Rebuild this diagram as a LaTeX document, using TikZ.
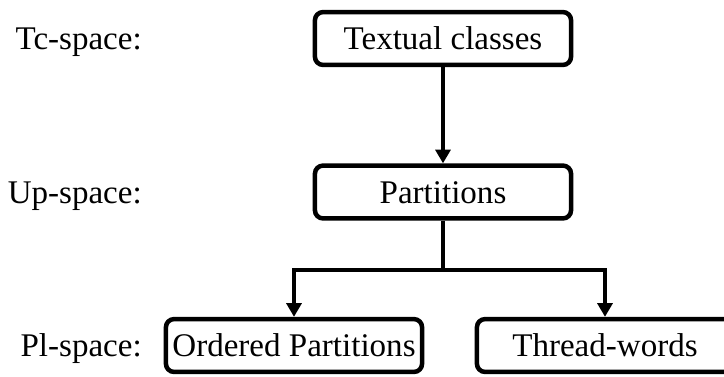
\documentclass[tikz,border=0pt]{standalone}
\usepackage{fontspec}
\setmainfont{Liberation Serif}
\usetikzlibrary{positioning,arrows.meta}

\begin{document}
\begin{tikzpicture}[x=0.025cm, y=-0.025cm,
  level/.style={draw, line width=3.2pt, rounded corners=0.2cm,
    minimum width=6.4cm, minimum height=1.32cm, inner sep=0pt,
    text height=0.55cm, text depth=0pt, font=\fontsize{23.5}{28}\selectfont},
  spacelabel/.style={anchor=east, inner sep=0pt,
    text height=0.55cm, text depth=0pt, font=\fontsize{23.5}{28}\selectfont},
  link/.style={line width=2.8pt, -{Triangle[length=0.34cm,width=0.37cm]}}]

  \clip (0,0) rectangle (724,376);

	\def\cx{443};

%levels
  \node[level] (tc) at (\cx, 38.5) {Textual classes};
  \node[level] (up) at (\cx, 192) {Partitions};
  \node[level] (ord) at (294, 345.5) {Ordered Partitions};
  \node[level] (thr) at (605, 345.5) {Thread-words};

%space names
  \foreach \y/\txt/\name in {38.5/Tc-space:/ltc, 192/Up-space:/lup, 345.5/Pl-space:/lpl} {
    \node[spacelabel] (\name) at (142, \y) {\txt};
  }

%links
  \coordinate (split) at (\cx, 270);
  \draw[link] (tc) -- (up);
  \draw[line width=2.8pt] (up) -- (split);
  \draw[link] (split) -| (ord);
  \draw[link] (split) -| (thr);

\end{tikzpicture}
\end{document}
